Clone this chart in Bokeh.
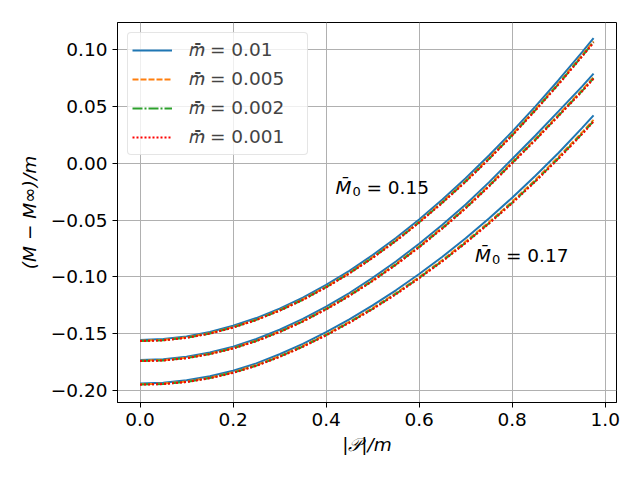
from bokeh.plotting import figure
from bokeh.models import Range1d, FixedTicker, Legend, LegendItem, Label
from bokeh.embed import file_html
from bokeh.resources import INLINE

# |P|/m sample positions
x = [0.0, 0.05, 0.1, 0.15, 0.2, 0.25, 0.3, 0.35, 0.4, 0.45, 0.5,
     0.55, 0.6, 0.65, 0.7, 0.75, 0.8, 0.85, 0.9, 0.95, 0.975]

# M0 = 0.15 group
m015_mbar_0010 = [-0.1553, -0.1545, -0.1522, -0.1483, -0.1429, -0.1361, -0.1278, -0.1181, -0.1070, -0.0946, -0.0808,
                  -0.0658, -0.0495, -0.0319, -0.0132, 0.0067, 0.0277, 0.0499, 0.0731, 0.0974, 0.1099]
m015_mbar_0005 = [-0.1560, -0.1553, -0.1531, -0.1493, -0.1440, -0.1374, -0.1291, -0.1196, -0.1085, -0.0963, -0.0826,
                  -0.0677, -0.0515, -0.0340, -0.0154, 0.0044, 0.0252, 0.0474, 0.0704, 0.0947, 0.1071]
m015_mbar_0002 = [-0.1562, -0.1556, -0.1534, -0.1497, -0.1443, -0.1377, -0.1295, -0.1200, -0.1090, -0.0968, -0.0831,
                  -0.0682, -0.0520, -0.0346, -0.0161, 0.0037, 0.0245, 0.0467, 0.0697, 0.0939, 0.1063]
m015_mbar_0001 = [-0.1563, -0.1557, -0.1535, -0.1498, -0.1445, -0.1379, -0.1297, -0.1202, -0.1092, -0.0970, -0.0833,
                  -0.0685, -0.0523, -0.0349, -0.0164, 0.0034, 0.0242, 0.0463, 0.0693, 0.0935, 0.1059]

# M0 = 0.16 group
m016_mbar_0010 = [-0.1729, -0.1722, -0.1700, -0.1663, -0.1612, -0.1545, -0.1464, -0.1369, -0.1261, -0.1141, -0.1008,
                  -0.0864, -0.0708, -0.0542, -0.0363, -0.0169, 0.0037, 0.0243, 0.0457, 0.0673, 0.0787]
m016_mbar_0005 = [-0.1736, -0.1730, -0.1710, -0.1674, -0.1624, -0.1558, -0.1479, -0.1385, -0.1278, -0.1159, -0.1028,
                  -0.0885, -0.0730, -0.0565, -0.0388, -0.0195, 0.0010, 0.0214, 0.0428, 0.0642, 0.0755]
m016_mbar_0002 = [-0.1738, -0.1733, -0.1713, -0.1677, -0.1627, -0.1562, -0.1483, -0.1390, -0.1283, -0.1164, -0.1033,
                  -0.0891, -0.0737, -0.0572, -0.0395, -0.0202, 0.0002, 0.0206, 0.0419, 0.0633, 0.0746]
m016_mbar_0001 = [-0.1739, -0.1734, -0.1714, -0.1678, -0.1629, -0.1564, -0.1485, -0.1392, -0.1285, -0.1167, -0.1036,
                  -0.0894, -0.0740, -0.0575, -0.0398, -0.0206, -0.0002, 0.0202, 0.0415, 0.0629, 0.0742]

# M0 = 0.17 group
m017_mbar_0010 = [-0.1936, -0.1929, -0.1908, -0.1873, -0.1824, -0.1759, -0.1679, -0.1588, -0.1484, -0.1372, -0.1249,
                  -0.1117, -0.0974, -0.0822, -0.0659, -0.0487, -0.0304, -0.0111, 0.0092, 0.0308, 0.0420]
m017_mbar_0005 = [-0.1943, -0.1937, -0.1919, -0.1885, -0.1837, -0.1774, -0.1696, -0.1606, -0.1504, -0.1394, -0.1273,
                  -0.1142, -0.1001, -0.0851, -0.0689, -0.0519, -0.0338, -0.0146, 0.0056, 0.0269, 0.0381]
m017_mbar_0002 = [-0.1945, -0.1940, -0.1922, -0.1888, -0.1841, -0.1779, -0.1701, -0.1611, -0.1510, -0.1400, -0.1280,
                  -0.1149, -0.1008, -0.0859, -0.0698, -0.0528, -0.0347, -0.0156, 0.0045, 0.0258, 0.0370]
m017_mbar_0001 = [-0.1946, -0.1941, -0.1923, -0.1890, -0.1843, -0.1781, -0.1703, -0.1614, -0.1513, -0.1403, -0.1283,
                  -0.1153, -0.1012, -0.0863, -0.0702, -0.0532, -0.0352, -0.0161, 0.0040, 0.0253, 0.0364]

legend_labels = ["\U0001D45A\u0304 = 0.01", "\U0001D45A\u0304 = 0.005",
                 "\U0001D45A\u0304 = 0.002", "\U0001D45A\u0304 = 0.001"]
colors = ["#1f77b4", "#ff7f0e", "#2ca02c", "#ff0000"]
dashes = ["solid", "6 2", "10 2 2 2", "2 2"]

x_ticks = [0.0, 0.2, 0.4, 0.6, 0.8, 1.0]
x_tick_labels = ["0.0", "0.2", "0.4", "0.6", "0.8", "1.0"]
y_ticks = [-0.20, -0.15, -0.10, -0.05, 0.00, 0.05, 0.10]
y_tick_labels = ["\u22120.20", "\u22120.15", "\u22120.10", "\u22120.05", "0.00", "0.05", "0.10"]

annot_x = [0.42, 0.72]
annot_y = [-0.021, -0.081]
annot_values = ["0.15", "0.17"]

FONT = "DejaVu Sans"
FS = "18.5px"

p = figure(width=624, height=464, output_backend="svg", toolbar_location=None,
           x_range=Range1d(-0.0485, 1.0243), y_range=Range1d(-0.2103, 0.1236),
           min_border_left=117, min_border_right=8, min_border_top=22, min_border_bottom=62)
p.background_fill_color = "white"
p.border_fill_color = "white"
p.outline_line_color = "black"
p.outline_line_width = 1

groups = [
    [m015_mbar_0010, m015_mbar_0005, m015_mbar_0002, m015_mbar_0001],
    [m016_mbar_0010, m016_mbar_0005, m016_mbar_0002, m016_mbar_0001],
    [m017_mbar_0010, m017_mbar_0005, m017_mbar_0002, m017_mbar_0001],
]

legend_renderers = [None] * 4
for i in range(4):
    for g in groups:
        r = p.line(x, g[i], line_color=colors[i], line_dash=dashes[i], line_width=2)
        if legend_renderers[i] is None:
            legend_renderers[i] = r

p.xaxis.ticker = FixedTicker(ticks=x_ticks)
p.xaxis.major_label_overrides = {t: l for t, l in zip(x_ticks, x_tick_labels)}
p.yaxis.ticker = FixedTicker(ticks=y_ticks)
p.yaxis.major_label_overrides = {t: l for t, l in zip(y_ticks, y_tick_labels)}
for ax in (p.xaxis, p.yaxis):
    ax.major_tick_in = 0
    ax.major_tick_out = 5
    ax.minor_tick_line_color = None
    ax.major_tick_line_color = "black"
    ax.axis_line_color = "black"
    ax.major_label_text_font = FONT
    ax.major_label_text_font_size = FS
    ax.major_label_text_color = "black"
    ax.major_label_standoff = 5
    ax.axis_label_text_font = FONT
    ax.axis_label_text_font_size = FS
    ax.axis_label_text_font_style = "italic"
    ax.axis_label_text_color = "black"

p.xaxis.axis_label = "|\U0001D4AB|/m"
p.yaxis.axis_label = "(M \u2212 M\u221e)/m"
p.xaxis.axis_label_standoff = 5
p.yaxis.axis_label_standoff = 8

p.grid.grid_line_color = "#b0b0b0"
p.grid.grid_line_width = 1

legend = Legend(items=[LegendItem(label=legend_labels[i], renderers=[legend_renderers[i]]) for i in range(4)],
                location="top_left")
legend.margin = 10
legend.padding = 4
legend.spacing = 3
legend.glyph_width = 40
legend.glyph_height = 26
legend.label_standoff = 17
legend.label_width = 114
legend.label_text_font = FONT
legend.label_text_font_size = FS
legend.label_height = 20
legend.border_line_color = "#cccccc"
legend.border_line_width = 1
legend.background_fill_alpha = 0.8
legend.border_radius = 4
p.add_layout(legend)

for ax_, ay_, val in zip(annot_x, annot_y, annot_values):
    p.add_layout(Label(x=ax_, y=ay_, text="M\u0304", text_font=FONT, text_font_size=FS,
                       text_font_style="italic", text_baseline="alphabetic", text_color="black"))
    p.add_layout(Label(x=ax_, y=ay_, x_offset=17, y_offset=-4, text="0", text_font=FONT,
                       text_font_size="13px", text_baseline="alphabetic", text_color="black"))
    p.add_layout(Label(x=ax_, y=ay_, x_offset=31, text="= " + val, text_font=FONT, text_font_size=FS,
                       text_baseline="alphabetic", text_color="black"))

open("out.html", "w").write(file_html(p, INLINE))
